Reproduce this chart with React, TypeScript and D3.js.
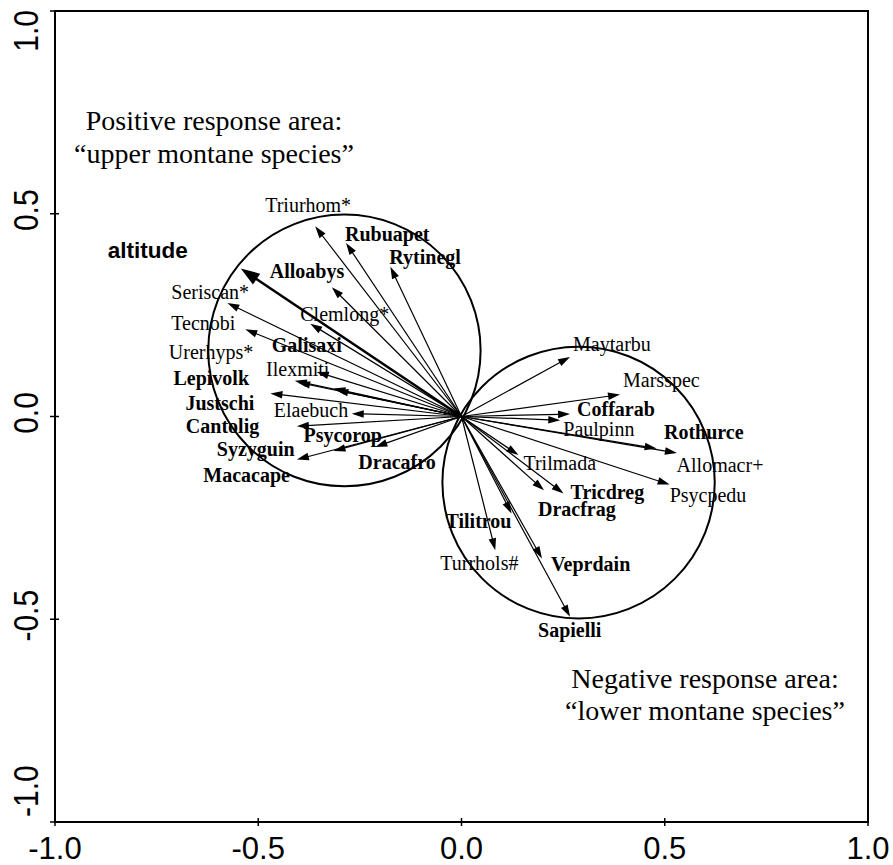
import React from "react";
import * as d3 from "d3";

// Species response vectors (axis 1 / axis 2 scores)
const SPECIES = [
  "Triurhom*", "Rubuapet", "Rytinegl", "Alloabys", "Clemlong*", "Seriscan*", "Tecnobi",
  "Galisaxi", "Urerhyps*", "Ilexmiti", "Lepivolk", "Justschi", "Macacape", "Elaebuch",
  "Cantolig", "Psycorop", "Syzyguin", "Dracafro",
  "Maytarbu", "Marsspec", "Coffarab", "Paulpinn", "Rothurce", "Allomacr+", "Psycpedu",
  "Trilmada", "Tricdreg", "Dracfrag", "Tilitrou", "Turrhols#", "Veprdain", "Sapielli",
];
const AXIS1 = [
  -0.360, -0.284, -0.175, -0.319, -0.372, -0.576, -0.532,
  -0.356, -0.410, -0.402, -0.470, -0.315, -0.308, -0.270,
  -0.405, -0.315, -0.405, -0.212,
  0.267, 0.390, 0.267, 0.243, 0.530, 0.480, 0.512,
  0.140, 0.251, 0.203, 0.123, 0.083, 0.198, 0.267,
];
const AXIS2 = [
  0.469, 0.428, 0.369, 0.319, 0.229, 0.280, 0.215,
  0.110, 0.088, 0.084, 0.057, 0.069, 0.065, 0.007,
  -0.024, -0.085, -0.106, -0.075,
  0.147, 0.054, 0.006, -0.009, -0.090, -0.079, -0.168,
  -0.095, -0.190, -0.182, -0.239, -0.330, -0.350, -0.494,
];
// significant response to altitude (printed in bold)
const SIGNIFICANT = [
  false, true, true, true, false, false, false,
  true, false, false, true, true, true, false,
  true, true, true, true,
  false, false, true, false, true, false, false,
  false, true, true, true, false, true, true,
];

// Environmental variable
const ENV_NAME = "altitude";
const ENV_AXIS1 = -0.543;
const ENV_AXIS2 = 0.365;

// Response circles (centre axis1, centre axis2, radius)
const CIRCLE_CX = [-0.288, 0.288];
const CIRCLE_CY = [0.163, -0.163];
const CIRCLE_R = [0.335, 0.335];

const TICKS = [-1.0, -0.5, 0.0, 0.5, 1.0];

// Label placement nudges (px) from each arrow tip: [dx, dy] to left/baseline
const LABEL_NUDGE: [number, number][] = [
  [-50, -14], [-1, -2], [-1, -3], [-62, -9], [-10, -3], [-56, -4], [-74, 1],
  [-45, -20], [-126, -22], [-32, -6], [-97, -8], [-148, 21], [-133, 92], [-78, 3],
  [-111, 7], [-30, -9], [-80, -3], [-17, 22],
  [3, -6], [3, -8], [7, 2], [3, 16], [-13, -14], [20, 23], [0, 17],
  [5, 15], [7, 5], [-6, 26], [-66, 15], [-55, 20], [9, 13], [-32, 20],
];
const ENV_NUDGE: [number, number] = [-133, -10];

const W = 893;
const H = 865;
const LEFT = 55;
const RIGHT = 868;
const TOP = 11;
const BOTTOM = 822;

const SERIF = "'Liberation Serif', 'Times New Roman', serif";
const SANS = "'Liberation Sans', Arial, sans-serif";

const fmt = (t: number) => t.toFixed(1);

function arrowParts(
  x0: number, y0: number, x1: number, y1: number, len: number, half: number
) {
  const dx = x1 - x0;
  const dy = y1 - y0;
  const d = Math.hypot(dx, dy) || 1;
  const ux = dx / d;
  const uy = dy / d;
  const bx = x1 - ux * len;
  const by = y1 - uy * len;
  const nx = -uy;
  const ny = ux;
  const head = `M${x1},${y1}L${bx + nx * half},${by + ny * half}L${bx - nx * half},${by - ny * half}Z`;
  return { bx: x1 - ux * (len - 2), by: y1 - uy * (len - 2), head };
}

export default function App() {
  const x = d3.scaleLinear().domain([-1, 1]).range([LEFT, RIGHT]);
  const y = d3.scaleLinear().domain([-1, 1]).range([BOTTOM, TOP]);
  const ox = x(0);
  const oy = y(0);

  const env = arrowParts(ox, oy, x(ENV_AXIS1), y(ENV_AXIS2), 19, 6.5);

  // vertical tick labels: end labels are kept inside the frame
  const yLabel = (t: number) => {
    if (t >= 1) return { pos: TOP - 1, anchor: "end" };
    if (t <= -1) return { pos: BOTTOM - 5, anchor: "start" };
    return { pos: y(t) - 3.5, anchor: "middle" };
  };

  return (
    <svg width={W} height={H} style={{ display: "block", position: "absolute", left: 0, top: 0, background: "#fff" }}>
      <rect x={0} y={0} width={W} height={H} fill="#fff" />

      {/* frame */}
      <rect x={LEFT} y={TOP} width={RIGHT - LEFT} height={BOTTOM - TOP} fill="none" stroke="#000" strokeWidth={2} />

      {/* ticks and tick labels */}
      {TICKS.map((t) => (
        <g key={"xt" + t}>
          <line x1={x(t)} x2={x(t)} y1={BOTTOM - 4} y2={BOTTOM + 4} stroke="#000" strokeWidth={1.5} />
          <text x={x(t)} y={859} textAnchor="middle" fontFamily={SANS} fontSize={31} fill="#000">
            {fmt(t)}
          </text>
        </g>
      ))}
      {TICKS.map((t) => {
        const l = yLabel(t);
        return (
          <g key={"yt" + t}>
            <line x1={LEFT - 5} x2={LEFT + 4} y1={y(t)} y2={y(t)} stroke="#000" strokeWidth={1.5} />
            <text
              transform={`translate(38,${l.pos}) rotate(-90) scale(1,1.15)`}
              textAnchor={l.anchor}
              fontFamily={SANS}
              fontSize={30}
              fill="#000"
            >
              {fmt(t)}
            </text>
          </g>
        );
      })}

      {/* response circles */}
      {CIRCLE_CX.map((cx, i) => (
        <ellipse
          key={"c" + i}
          cx={x(cx)}
          cy={y(CIRCLE_CY[i])}
          rx={x(CIRCLE_R[i]) - x(0)}
          ry={y(0) - y(CIRCLE_R[i])}
          fill="none"
          stroke="#000"
          strokeWidth={2}
        />
      ))}

      {/* species arrows */}
      {SPECIES.map((s, i) => {
        const tx = x(AXIS1[i]);
        const ty = y(AXIS2[i]);
        const a = arrowParts(ox, oy, tx, ty, 12, 3.8);
        return (
          <g key={s}>
            <line x1={ox} y1={oy} x2={a.bx} y2={a.by} stroke="#000" strokeWidth={1.2} />
            <path d={a.head} fill="#000" />
          </g>
        );
      })}

      {/* environmental arrow */}
      <line x1={ox} y1={oy} x2={env.bx} y2={env.by} stroke="#000" strokeWidth={2.6} />
      <path d={env.head} fill="#000" />

      {/* species labels */}
      {SPECIES.map((s, i) => (
        <text
          key={"l" + s}
          x={x(AXIS1[i]) + LABEL_NUDGE[i][0]}
          y={y(AXIS2[i]) + LABEL_NUDGE[i][1]}
          fontFamily={SERIF}
          fontSize={20}
          fontWeight={SIGNIFICANT[i] ? "bold" : "normal"}
          fill="#000"
        >
          {s}
        </text>
      ))}
      <text
        x={x(ENV_AXIS1) + ENV_NUDGE[0]}
        y={y(ENV_AXIS2) + ENV_NUDGE[1]}
        fontFamily={SANS}
        fontSize={22.5}
        fontWeight="bold"
        fill="#000"
      >
        {ENV_NAME}
      </text>

      {/* annotations */}
      <text x={214} y={130} textAnchor="middle" fontFamily={SERIF} fontSize={28} fill="#000">
        Positive response area:
      </text>
      <text x={214} y={163} textAnchor="middle" fontFamily={SERIF} fontSize={28} fill="#000">
        {"\u201Cupper montane species\u201D"}
      </text>
      <text x={705} y={688} textAnchor="middle" fontFamily={SERIF} fontSize={28} fill="#000">
        Negative response area:
      </text>
      <text x={705} y={720} textAnchor="middle" fontFamily={SERIF} fontSize={28} fill="#000">
        {"\u201Clower montane species\u201D"}
      </text>
    </svg>
  );
}
